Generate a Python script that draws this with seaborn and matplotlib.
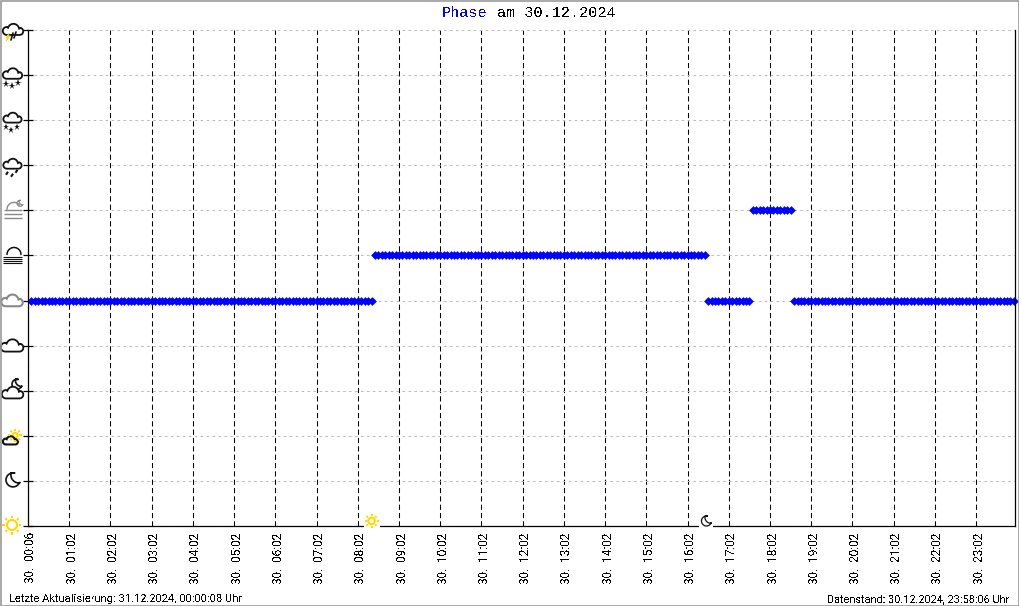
import numpy as np
import pandas as pd
import seaborn as sns
import matplotlib.pyplot as plt
from matplotlib.patches import Circle, Rectangle, Polygon
from matplotlib.transforms import ScaledTranslation

# phase level per 5 min sample (0 = sun ... 11 = thunderstorm)
# the first sample sits one step right of the y axis
PHASE_VALUES = [5] * 100 + [6] * 97 + [5] * 13 + [7] * 12 + [5] * 65
HOUR_LABELS = [
    "30.  00:06", "30.  01:02", "30.  02:02", "30.  03:02", "30.  04:02", "30.  05:02",
    "30.  06:02", "30.  07:02", "30.  08:02", "30.  09:02", "30.  10:02", "30.  11:02",
    "30.  12:02", "30.  13:02", "30.  14:02", "30.  15:02", "30.  16:02", "30.  17:02",
    "30.  18:02", "30.  19:02", "30.  20:02", "30.  21:02", "30.  22:02", "30.  23:02",
]
SUNRISE_SAMPLE = 100
SUNSET_SAMPLE = 197.5
LEVELS = ["sun", "moon", "cloud_sun", "cloud_moon", "cloud", "cloud_grey",
          "fog", "haze", "rain", "sleet", "snow", "thunder"]

BLUE = "#0000ff"
YELLOW = "#ffd800"
DARK = "#111111"
GREY = "#888888"


def cloud(ov, x, y, color=DARK, s=1.0, lw=1.3):
    # outline of a small cloud, centred around x, y in pixels
    t1 = np.linspace(np.pi * 0.5, np.pi * 1.5, 12)
    left = np.c_[x - 6 * s + 4.2 * s * np.cos(t1), y + 1 * s + 4.2 * s * np.sin(t1)]
    t2 = np.linspace(np.pi * 1.1, np.pi * 1.95, 14)
    top = np.c_[x + 1 * s + 6 * s * np.cos(t2), y - 0.5 * s + 6 * s * np.sin(t2)]
    t3 = np.linspace(-np.pi * 0.4, np.pi * 0.5, 10)
    right = np.c_[x + 7.5 * s + 3.8 * s * np.cos(t3), y + 1.4 * s + 3.8 * s * np.sin(t3)]
    pts = np.vstack([left, top, right])
    ov.add_patch(Polygon(pts, closed=True, fill=True, facecolor="white", edgecolor=color, lw=lw))


def sun(ov, x, y, r=4.5, ray=3.0, gap=2.0):
    for a in np.arange(0, 2 * np.pi, np.pi / 4):
        ov.plot([x + (r + gap) * np.cos(a), x + (r + gap + ray) * np.cos(a)],
                [y + (r + gap) * np.sin(a), y + (r + gap + ray) * np.sin(a)],
                color=YELLOW, lw=1.5, solid_capstyle="butt")
    ov.add_patch(Circle((x, y), r, facecolor="white", edgecolor=YELLOW, lw=1.5))


def moon(ov, x, y, r=7.0, color=DARK, lw=1.2):
    # crescent with the tips pointing to the upper right
    t = np.linspace(np.pi * 0.1, np.pi * 1.6, 24)
    outer = np.c_[x + r * np.cos(t), y + r * np.sin(t)]
    t2 = np.linspace(np.pi * 1.08, np.pi * 0.46, 16)
    inner = np.c_[x + r * 6 / 7 + r * 8.1 / 7 * np.cos(t2), y - r * 5 / 7 + r * 8.1 / 7 * np.sin(t2)]
    ov.add_patch(Polygon(np.vstack([outer, inner]), closed=True, facecolor="white",
                         edgecolor=color, lw=lw))


def streaks(ov, xs, ys, color=DARK):
    for x, y in zip(xs, ys):
        ov.plot([x + 1, x - 1], [y - 1.5, y + 1.5], color=color, lw=1.5, solid_capstyle="butt")


def flakes(ov, xs, ys, size=5.5):
    for x, y in zip(xs, ys):
        ov.plot([x], [y], marker="*", color=DARK, ms=size, mew=0)


def bars(ov, x0, x1, ys, color=DARK, lw=0.9):
    for y in ys:
        ov.plot([x0, x1], [y, y], color=color, lw=lw, solid_capstyle="butt")


def draw_icons(ov, tick_y):
    y = {name: tick_y(i) for i, name in enumerate(LEVELS)}

    cloud(ov, 12.5, y["thunder"], s=0.95)
    ov.add_patch(Polygon([[9, 33], [6, 38], [8, 38], [6, 41], [10, 36], [8, 36]],
                         facecolor=YELLOW, edgecolor=YELLOW, lw=0.5))
    ov.plot([13, 11], [33, 40], color=DARK, lw=1.2)
    ov.plot([16, 14], [32, 38], color=DARK, lw=1.2)

    cloud(ov, 12, y["snow"] - 1, s=0.9)
    flakes(ov, [6, 12.5, 18.5], [y["snow"] + 9, y["snow"] + 10.5, y["snow"] + 8])
    cloud(ov, 12, y["sleet"] - 2, s=0.85)
    flakes(ov, [6, 11.5, 17.5], [y["sleet"] + 7, y["sleet"] + 10, y["sleet"] + 7], size=4.8)
    cloud(ov, 12, y["rain"] - 1, s=0.85)
    streaks(ov, [7, 12, 16.5], [y["rain"] + 8, y["rain"] + 10, y["rain"] + 6])

    # haze and fog: cloud top with bars under it
    moon(ov, 20, y["haze"] - 7, r=3, color=GREY, lw=0.8)
    t = np.linspace(np.pi, 1.8 * np.pi, 14)
    ov.plot(14 + 7 * np.cos(t), y["haze"] - 1 + 7 * np.sin(t), color=GREY, lw=1.0)
    bars(ov, 4, 22, [y["haze"], y["haze"] + 4, y["haze"] + 8], color=GREY, lw=1.0)
    t = np.linspace(np.pi, 2 * np.pi, 14)
    ov.plot(14 + 7 * np.cos(t), y["fog"] - 1 + 7 * np.sin(t), color=DARK, lw=1.1)
    bars(ov, 3, 22, [y["fog"] + d for d in (2, 4, 6, 8)], lw=0.8)

    cloud(ov, 11.5, y["cloud_grey"] + 0.5, color=GREY, s=1.0, lw=1.5)
    cloud(ov, 11.5, y["cloud"] + 0.5, s=1.05, lw=1.3)

    moon(ov, 17, y["cloud_moon"] - 6.5, r=5)
    cloud(ov, 12, y["cloud_moon"] + 2.5, s=1.0, lw=1.3)

    sun(ov, 15, y["cloud_sun"] - 0.5, r=2.5, ray=2.2)
    cloud(ov, 10, y["cloud_sun"] + 5, s=0.7, lw=1.5)

    moon(ov, 13, y["moon"] - 1, r=7.0)
    sun(ov, 12, y["sun"] - 1, r=5.0, ray=2.5)


def main():

    sns.set_theme(style="white")
    plt.rcParams["font.family"] = ["Liberation Mono", "DejaVu Sans Mono"]
    plt.rcParams["text.antialiased"] = False

    df = pd.DataFrame({"sample": np.arange(1, len(PHASE_VALUES) + 1), "phase": PHASE_VALUES})

    fig = plt.figure(figsize=(10.2, 6.06), dpi=100, facecolor="white")
    W, H = 1020.0, 606.0
    ax = fig.add_axes([28.0 / W, 1 - 526.0 / H, 987.3 / W, 496.0 / H])

    ax.set_xlim(0, 287.4)
    ax.set_ylim(0, 11)

    ax.set_yticks(range(len(LEVELS)))
    ax.set_yticklabels([])
    ax.set_xticks(np.arange(len(HOUR_LABELS)) * 12)
    ax.set_xticklabels(HOUR_LABELS, rotation=90, fontsize=8.5, color="black", family="Roboto")
    ax.tick_params(axis="x", length=0, pad=4.5)
    ax.tick_params(axis="y", length=6.5, width=0.9, color="black", direction="inout", left=True)

    # tick labels sit a bit right of their gridline
    offset = ScaledTranslation(3 / 100, 0, fig.dpi_scale_trans)
    for label in ax.get_xticklabels():
        label.set_transform(label.get_transform() + offset)

    ax.grid(axis="y", color="#bbbbbb", lw=0.75, ls=(0, (2.4, 3.3)))
    ax.grid(axis="x", color="black", lw=0.75, ls=(0, (5, 3)))
    ax.set_axisbelow(True)

    for name, spine in ax.spines.items():
        spine.set_visible(name != "top")
        spine.set_color("black")
        spine.set_linewidth(0.9)

    sns.scatterplot(data=df, x="sample", y="phase", ax=ax, marker="D", s=20,
                    color=BLUE, linewidth=0, clip_on=False, antialiased=False, legend=False)
    ax.set_xlabel("")
    ax.set_ylabel("")

    # overlay in pixel coordinates for the icons and figure frame
    ov = fig.add_axes([0, 0, 1, 1], facecolor="none")
    ov.set_xlim(0, W)
    ov.set_ylim(H, 0)
    ov.axis("off")

    def tick_y(level):
        return H - ax.transData.transform((0, level))[1]

    def sample_x(sample):
        return ax.transData.transform((sample, 0))[0]

    draw_icons(ov, tick_y)
    ov.add_patch(Rectangle((sample_x(SUNRISE_SAMPLE) - 8, 513), 16, 15, facecolor="white", edgecolor="none"))
    sun(ov, sample_x(SUNRISE_SAMPLE), 521, r=3.3, ray=2.0, gap=1.7)
    ov.add_patch(Rectangle((sample_x(SUNSET_SAMPLE) - 7, 513), 14, 15, facecolor="white", edgecolor="none"))
    moon(ov, sample_x(SUNSET_SAMPLE), 521, r=5, lw=0.9)

    ov.add_patch(Rectangle((0.5, 0.5), W - 1.5, H - 1, fill=False, edgecolor="#999999", lw=1.2))

    title_y = 13
    ov.text(442, title_y, "Phase", color=BLUE, fontsize=10.9, va="center", ha="left")
    ov.text(497, title_y, "am 30.12.2024", color="black", fontsize=10.9, va="center", ha="left")

    ov.text(9, 599, "Letzte Aktualisierung: 31.12.2024, 00:00:08 Uhr", fontsize=8,
            color="black", va="center", ha="left", family="Roboto")
    ov.text(1009, 599, "Datenstand: 30.12.2024, 23:58:06 Uhr", fontsize=7.8,
            color="black", va="center", ha="right", family="Roboto")

    fig.savefig("out.png", dpi=100)


if __name__ == "__main__":
    main()
